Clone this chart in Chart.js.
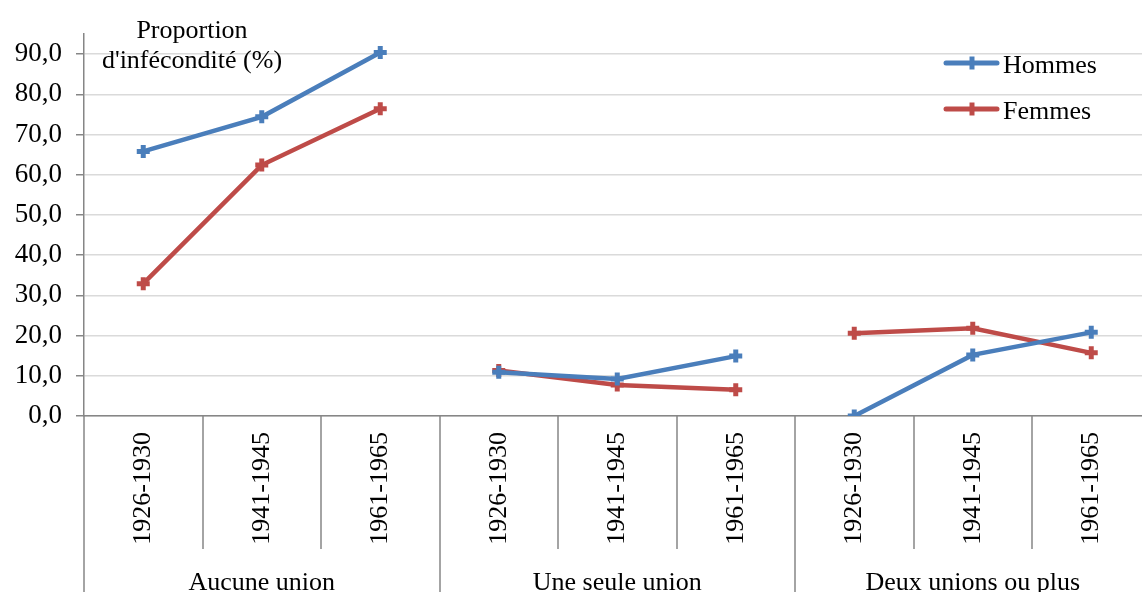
<!DOCTYPE html>
<html>
<head>
<meta charset="utf-8">
<script src="https://cdn.jsdelivr.net/npm/chart.js@4/dist/chart.umd.min.js"></script>
<style>
  html, body { margin: 0; padding: 0; background: #fff; overflow: hidden; }
  canvas { display: block; }
</style>
</head>
<body>
<canvas id="chart" width="1162" height="600"></canvas>
<script>
// Birth cohorts, repeated inside each union group
const categories = ['1926-1930', '1941-1945', '1961-1965',
                    '1926-1930', '1941-1945', '1961-1965',
                    '1926-1930', '1941-1945', '1961-1965'];
const groups = ['Aucune union', 'Une seule union', 'Deux unions ou plus'];
const seriesNames = ['Hommes', 'Femmes'];
const seriesColors = ['#4a7ebb', '#be4b48'];
// Proportion d'infécondité (%)
const hommes = [65.8, 74.4, 90.4, 10.9, 9.2, 14.9, 0.0, 15.2, 20.8];
const femmes = [32.9, 62.4, 76.4, 11.3, 7.7, 6.5, 20.6, 21.8, 15.7];
const yTicks = [0, 10, 20, 30, 40, 50, 60, 70, 80, 90];
const yTitle = ['Proportion', "d'infécondité (%)"];

const FONT = "'Liberation Serif', 'Times New Roman', serif";
const AXIS = '#868686';
const perGroup = 3;

// no line joins the last cohort of a group to the first of the next
function seg(color) {
  return {
    borderColor: ctx => (ctx.p0DataIndex % perGroup === perGroup - 1) ? 'rgba(0,0,0,0)' : color
  };
}

function series(label, data, color) {
  return {
    label, data,
    borderColor: color,
    backgroundColor: color,
    borderWidth: 4.5,
    pointStyle: 'cross',
    pointRadius: 6.5,
    pointBorderWidth: 5,
    pointBorderColor: color,
    pointHoverRadius: 6.5,
    tension: 0,
    segment: seg(color)
  };
}

const decorations = {
  id: 'decorations',
  afterDraw(chart) {
    const ctx = chart.ctx;
    const xs = chart.scales.x;
    const area = chart.chartArea;
    const half = (xs.getPixelForValue(1) - xs.getPixelForValue(0)) / 2;
    ctx.save();
    // category dividers below the axis; group dividers run to the bottom
    ctx.strokeStyle = AXIS;
    ctx.lineWidth = 1.5;
    for (let i = 0; i <= categories.length; i++) {
      const x = Math.round(xs.getPixelForValue(0) - half + i * 2 * half);
      const yEnd = (i % perGroup === 0) ? chart.height : area.bottom + 133;
      ctx.beginPath();
      ctx.moveTo(x, area.bottom);
      ctx.lineTo(x, yEnd);
      ctx.stroke();
    }
    // group labels
    ctx.fillStyle = '#000';
    ctx.font = '26px ' + FONT;
    ctx.textAlign = 'center';
    ctx.textBaseline = 'alphabetic';
    groups.forEach((g, k) => {
      const x = xs.getPixelForValue(k * perGroup + 1);
      ctx.fillText(g, x, 590);
    });
    // value axis title
    ctx.fillText(yTitle[0], 192, 38);
    ctx.fillText(yTitle[1], 192, 68);
    // legend
    const ds = chart.data.datasets;
    ds.forEach((d, k) => {
      const y = 63 + k * 46;
      ctx.strokeStyle = d.borderColor;
      ctx.lineWidth = 5;
      ctx.lineCap = 'round';
      ctx.beginPath();
      ctx.moveTo(946, y);
      ctx.lineTo(997, y);
      ctx.stroke();
      ctx.lineCap = 'butt';
      ctx.beginPath();
      ctx.moveTo(972, y - 6.5);
      ctx.lineTo(972, y + 6.5);
      ctx.stroke();
      ctx.fillStyle = '#000';
      ctx.textAlign = 'left';
      ctx.fillText(d.label, 1003, y + 10);
    });
    ctx.restore();
  }
};

new Chart(document.getElementById('chart'), {
  type: 'line',
  data: {
    labels: categories,
    datasets: [
      series(seriesNames[0], hommes, seriesColors[0]),
      series(seriesNames[1], femmes, seriesColors[1])
    ]
  },
  options: {
    responsive: false,
    animation: false,
    layout: { padding: { top: 34, right: 0, left: 0, bottom: 0 } },
    plugins: {
      legend: { display: false },
      tooltip: { enabled: false },
      title: { display: false }
    },
    scales: {
      x: {
        type: 'category',
        offset: true,
        grid: { display: false, drawTicks: false },
        border: { display: true, color: AXIS, width: 1.5 },
        ticks: {
          color: '#000',
          font: { family: FONT, size: 26 },
          minRotation: 90,
          maxRotation: 90,
          padding: 16,
          autoSkip: false
        },
        afterFit(scale) { scale.height = 184; }
      },
      y: {
        min: 0,
        max: 95,
        grid: { color: '#dadada', lineWidth: 1.5, tickLength: 8, tickColor: AXIS },
        border: { display: true, color: AXIS, width: 1.5 },
        ticks: {
          color: '#000',
          font: { family: FONT, size: 27 },
          padding: 14,
          callback: v => v.toFixed(1).replace('.', ',')
        },
        afterBuildTicks(scale) { scale.ticks = yTicks.map(v => ({ value: v })); },
        afterFit(scale) { scale.width = 84; }
      }
    }
  },
  plugins: [decorations]
});
</script>
</body>
</html>
